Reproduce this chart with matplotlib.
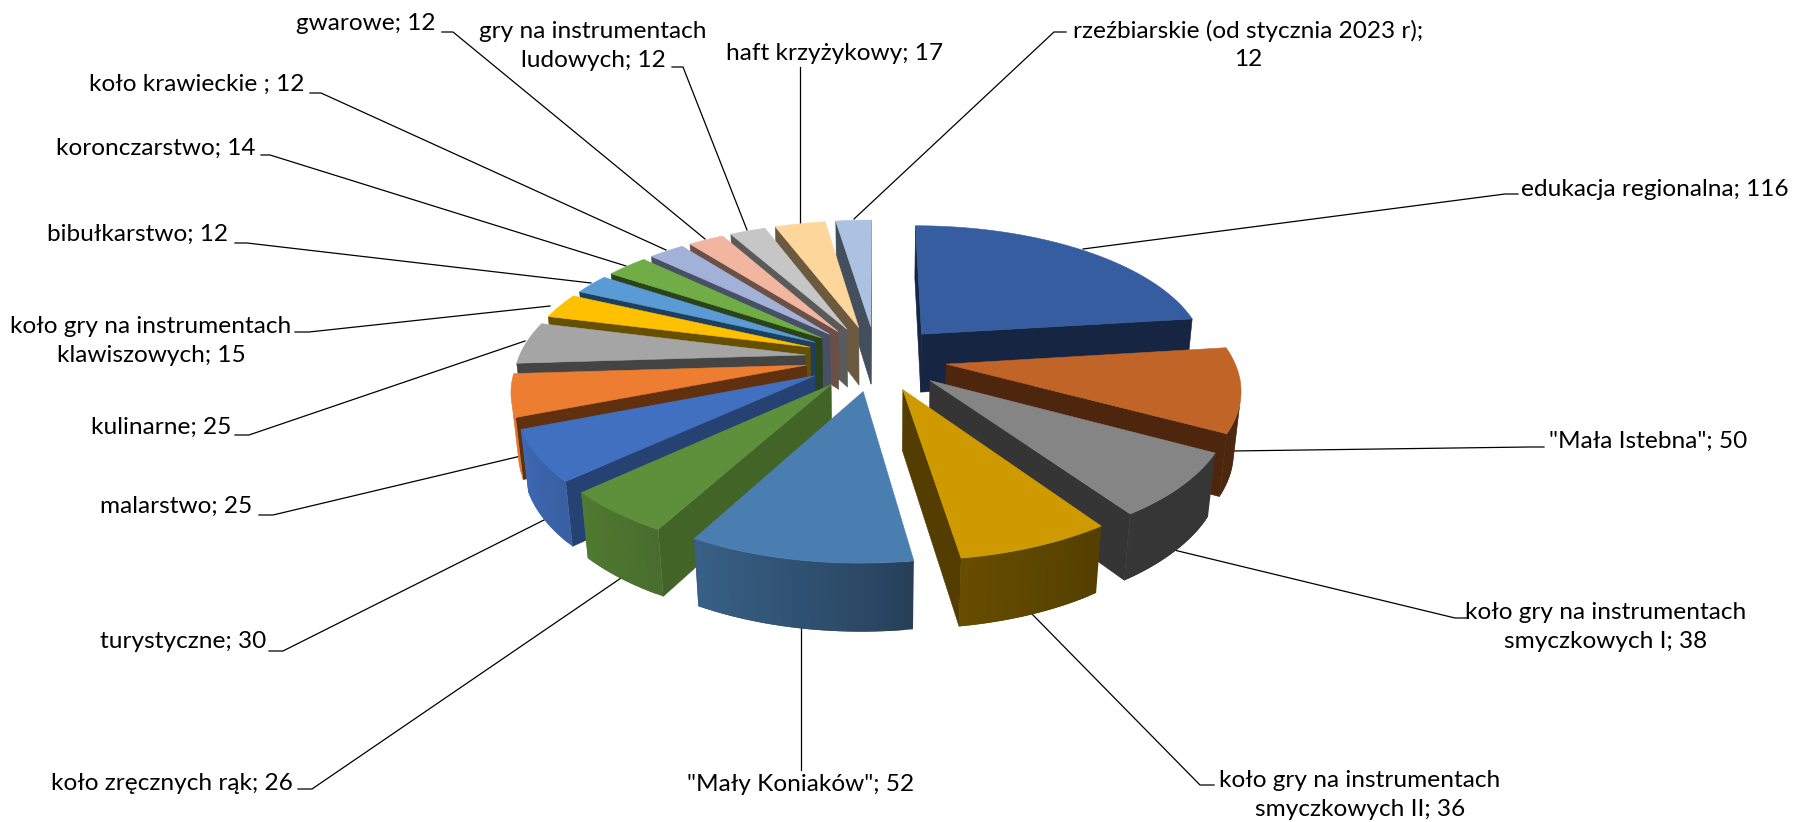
import matplotlib
matplotlib.use('Agg')
import matplotlib.pyplot as plt
from matplotlib.patches import Polygon
from matplotlib.colors import to_rgb
import numpy as np

plt.rcParams['font.family'] = ['Lato', 'DejaVu Sans']

categories = ['edukacja regionalna', '"Mała Istebna"', 'koło gry na instrumentach\nsmyczkowych I',
              'koło gry na instrumentach\nsmyczkowych II', '"Mały Koniaków"', 'koło zręcznych rąk',
              'turystyczne', 'malarstwo', 'kulinarne', 'koło gry na instrumentach\nklawiszowych',
              'bibułkarstwo', 'koronczarstwo', 'koło krawieckie ', 'gwarowe',
              'gry na instrumentach\nludowych', 'haft krzyżykowy', 'rzeźbiarskie (od stycznia 2023 r)']
values = [116, 50, 38, 36, 52, 26, 30, 25, 25, 15, 12, 14, 12, 12, 12, 17, 12]

top_colors = ['#355D9F', '#C06427', '#858585', '#CE9A00', '#4A7EB0', '#5E8F3A', '#4270C0', '#ED7D31',
              '#A5A5A5', '#FFC000', '#5B9BD5', '#70AD47', '#A2B1D8', '#F2B5A0', '#C6C6C6', '#FDD69B', '#ABC2E2']
side_colors = ['#162542', '#4E260D', '#353535', '#533D00', '#24415C', '#426427', '#254272', '#60300F',
               '#444444', '#665000', '#1F3F5E', '#2A431A', '#485066', '#6B5048', '#5A5A5A', '#6B5A40', '#444F5E']

# projection of the tilted pie, fitted by eye to the reference
CX, CY = 876, 358
S = 287
TILT = np.radians(27.5)
CAM = 5.6
EXPLODE = 0.247
H = 0.237


def project(u, v, z):
    s = CAM / (CAM - (v * np.cos(TILT) + z * np.sin(TILT)))
    return CX + S * u * s, CY + S * (v * np.sin(TILT) - z * np.cos(TILT)) * s


def faces_camera(nu, nv, u, v):
    return nu * (0 - u) + nv * (CAM * np.cos(TILT) - v) > 0


def wall_shade(t):
    return np.interp(np.sin(t), [-1, -0.88, -0.73, -0.48, 0, 0.15, 0.57, 1],
                     [1.0, 0.9, 0.85, 0.76, 0.58, 0.5, 0.41, 0.40])


def add_face(ax, pts, color, lw=0.4):
    ax.add_patch(Polygon(pts, closed=True, facecolor=color, edgecolor=color if lw else 'none', lw=lw, zorder=3))


def draw_wedge(ax, a0, a1, top, side):
    mid = (a0 + a1) / 2
    ou, ov = EXPLODE * np.sin(mid), -EXPLODE * np.cos(mid)
    ts = np.linspace(a0, a1, max(int(np.degrees(a1 - a0) / 1.5), 2) + 1)
    us = ou + np.sin(ts)
    vs = ov - np.cos(ts)

    # radial walls
    for t, sign in ((a0, -1), (a1, 1)):
        nu, nv = sign * np.cos(t), sign * np.sin(t)
        eu, ev = ou + np.sin(t), ov - np.cos(t)
        if faces_camera(nu, nv, ou, ov):
            add_face(ax, [project(ou, ov, 0), project(eu, ev, 0), project(eu, ev, -H), project(ou, ov, -H)], side)

    # outer wall, in small strips for the shading; each one runs under the next so no seams show
    base = np.array(to_rgb(top))
    for i in range(len(ts) - 1):
        tm = (ts[i] + ts[i + 1]) / 2
        if faces_camera(np.sin(tm), -np.cos(tm), ou + np.sin(tm), ov - np.cos(tm)):
            j = min(i + 2, len(ts) - 1)
            strip = [project(us[k], vs[k], 0) for k in range(i, j + 1)]
            strip += [project(us[k], vs[k], -H) for k in range(j, i - 1, -1)]
            add_face(ax, strip, tuple(base * wall_shade(tm)), lw=0)

    # top face
    pts = [project(ou, ov, 0)] + [project(u, v, 0) for u, v in zip(us, vs)]
    add_face(ax, pts, top)


fig = plt.figure(figsize=(17.96, 8.22), dpi=100)
ax = fig.add_axes([0, 0, 1, 1])
ax.set_xlim(0, 1796)
ax.set_ylim(822, 0)
ax.axis('off')

edges = np.radians(np.cumsum([0] + values) / sum(values) * 360)
order = np.argsort([-np.cos((edges[i] + edges[i + 1]) / 2) for i in range(len(values))])
for i in order:
    draw_wedge(ax, edges[i], edges[i + 1], top_colors[i], side_colors[i])

# label anchor and leader path for every slice, in picture pixels
label_layout = [
    (1521, 189, 'left'), (1549, 441, 'left'), (1606, 627, 'center'), (1360, 795, 'center'),
    (801, 784, 'center'), (293, 783, 'right'), (266, 641, 'right'), (252, 506, 'right'),
    (231, 427, 'right'), (151, 341, 'center'), (228, 234, 'right'), (255, 148, 'right'),
    (304, 84, 'right'), (435, 24, 'right'), (593, 46, 'center'), (835, 53, 'center'), (1248, 45, 'center'),
]
leader_paths = [
    [(1083, 249), (1505, 194), (1518, 194)], [(1231, 451), (1529, 447), (1544, 447)],
    [(1174, 550), (1455, 618), (1468, 618)], [(1031, 613), (1200, 785), (1214, 785)],
    [(801, 628), (801, 770)], [(624, 576), (312, 789), (298, 789)],
    [(546, 519), (283, 651), (269, 651)], [(521, 456), (273, 515), (259, 515)],
    [(525, 341), (249, 435), (235, 435)], [(550, 306), (309, 332), (295, 332)],
    [(591, 283), (247, 243), (235, 243)], [(626, 266), (270, 155), (261, 155)],
    [(666, 250), (321, 93), (310, 93)], [(705, 239), (453, 32), (442, 32)],
    [(747, 230), (683, 67), (672, 67)], [(800, 223), (800, 67)],
    [(854, 219), (1054, 32), (1066, 32)],
]

for name, val, (x, y, ha), path in zip(categories, values, label_layout, leader_paths):
    ax.plot([p[0] for p in path], [p[1] for p in path], color='black', lw=0.9, zorder=1)
    ax.text(x, y, f'{name}; {val}', ha=ha, va='center', fontsize=17.6, color='black',
            linespacing=1.42, multialignment='center')

# long last label breaks right after the semicolon in the reference
ax.texts[-1].set_text('rzeźbiarskie (od stycznia 2023 r);\n12')

fig.savefig('out.png', dpi=100)
